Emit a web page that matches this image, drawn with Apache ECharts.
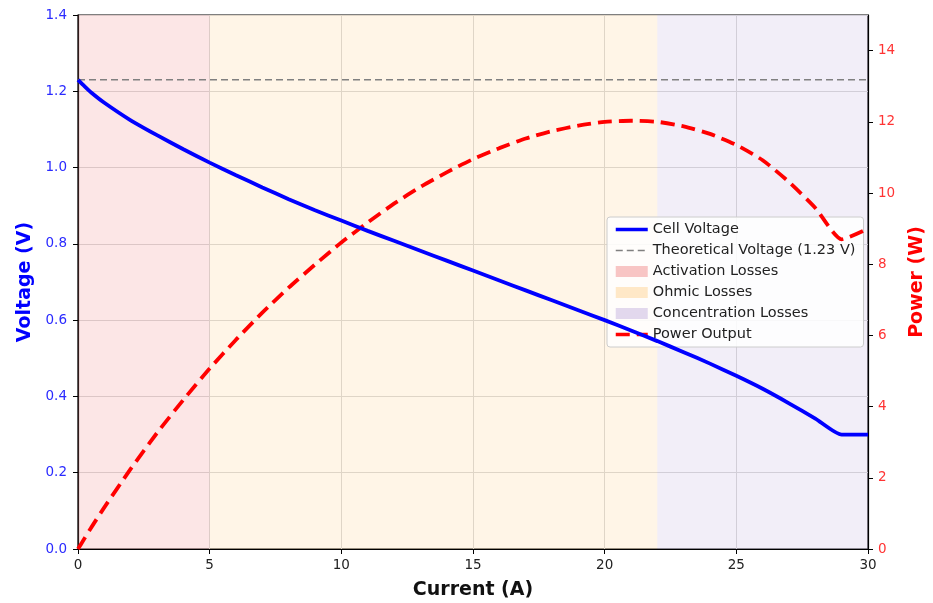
<!DOCTYPE html>
<html>
<head>
<meta charset="utf-8">
<script src="https://cdn.jsdelivr.net/npm/echarts@6/dist/echarts.min.js"></script>
<style>
  html, body { margin: 0; padding: 0; background: #fff; }
  #main { width: 933px; height: 603px; }
</style>
</head>
<body>
<div id="main"></div>
<script>
// values
var current = [0, 0.25, 0.5, 1, 2, 3, 4, 5, 6, 7, 8, 9, 10, 11, 12, 13, 14, 15,
  16, 17, 18, 19, 20, 21, 22, 23, 24, 25, 26, 27, 28, 29, 30];
var voltage = [1.230, 1.213, 1.197, 1.170, 1.124, 1.085, 1.048, 1.013, 0.980, 0.948,
  0.917, 0.888, 0.861, 0.834, 0.808, 0.782, 0.756, 0.730, 0.704, 0.678, 0.652,
  0.626, 0.600, 0.573, 0.545, 0.516, 0.486, 0.454, 0.420, 0.382, 0.342, 0.300, 0.300];
var power = [0, 0.30, 0.60, 1.17, 2.25, 3.26, 4.19, 5.07, 5.88, 6.64, 7.34, 7.99,
  8.61, 9.17, 9.70, 10.17, 10.58, 10.95, 11.26, 11.53, 11.74, 11.89, 12.00, 12.03,
  12.00, 11.87, 11.66, 11.35, 10.92, 10.31, 9.58, 8.70, 9.00];
var theoreticalV = 1.23;
var regionNames = ['Activation Losses', 'Ohmic Losses', 'Concentration Losses'];
var regionBounds = [[0, 5], [5, 22], [22, 30]];
var regionFill = ['rgba(240,128,128,0.2)', 'rgba(255,200,120,0.18)', 'rgba(190,170,220,0.2)'];
var regionSwatch = ['rgba(240,128,128,0.45)', 'rgba(255,200,120,0.4)', 'rgba(190,170,220,0.45)'];

var chart = echarts.init(document.getElementById('main'));
var font = 'DejaVu Sans';

var vData = current.map(function (c, i) { return [c, voltage[i]]; });
var pData = current.map(function (c, i) { return [c, power[i]]; });

var regionSeries = regionNames.map(function (name, i) {
  return {
    name: name,
    type: 'line',
    data: [],
    symbol: 'none',
    itemStyle: { color: regionSwatch[i] },
    markArea: {
      silent: true,
      itemStyle: { color: regionFill[i] },
      data: [[{ xAxis: regionBounds[i][0] }, { xAxis: regionBounds[i][1] }]]
    },
    z: 0
  };
});

var noDot = { opacity: 0 };

var option = {
  animation: false,
  textStyle: { fontFamily: font },
  grid: {
    left: 78, right: 65, top: 15, bottom: 54,
    outerBoundsMode: 'none',
    show: true, borderColor: '#000', borderWidth: 1.2, backgroundColor: 'transparent'
  },
  legend: {
    orient: 'vertical',
    left: 607, top: 217,
    padding: [5, 8, 5, 7],
    itemGap: 6,
    itemWidth: 32, itemHeight: 11,
    backgroundColor: 'rgba(255,255,255,0.85)',
    borderColor: '#ccc', borderWidth: 1, borderRadius: 3,
    textStyle: { fontFamily: font, fontSize: 14.5, color: '#222' },
    data: [
      { name: 'Cell Voltage', itemStyle: noDot, lineStyle: { width: 3.5 } },
      { name: 'Theoretical Voltage (1.23 V)', itemStyle: noDot, lineStyle: { width: 1.5 } },
      { name: 'Activation Losses', icon: 'rect' },
      { name: 'Ohmic Losses', icon: 'rect' },
      { name: 'Concentration Losses', icon: 'rect' },
      { name: 'Power Output', itemStyle: noDot, lineStyle: { width: 3.5 } }
    ]
  },
  xAxis: {
    type: 'value',
    min: 0, max: 30, interval: 5,
    name: 'Current (A)',
    nameLocation: 'middle',
    nameGap: 32,
    nameTextStyle: { fontFamily: font, fontSize: 19, fontWeight: 'bold', color: '#111' },
    axisLine: { lineStyle: { color: '#000', width: 1.2 } },
    axisTick: { show: true, length: 5, lineStyle: { color: '#000' } },
    axisLabel: { fontSize: 13.5, color: '#222', margin: 9 },
    splitLine: { show: true, lineStyle: { color: '#d8d8d8', width: 1 } }
  },
  yAxis: [
    {
      type: 'value',
      min: 0, max: 1.4, interval: 0.2,
      name: 'Voltage (V)',
      nameLocation: 'middle',
      nameGap: 43,
      nameTextStyle: { fontFamily: font, fontSize: 19, fontWeight: 'bold', color: '#0000ff' },
      axisLine: { show: true, lineStyle: { color: '#000', width: 1.2 } },
      axisTick: { show: true, length: 5, lineStyle: { color: '#000' } },
      axisLabel: {
        fontSize: 13.5, color: '#2a2aff', margin: 11,
        formatter: function (v) { return v.toFixed(1); }
      },
      splitLine: { show: true, lineStyle: { color: '#d8d8d8', width: 1 } }
    },
    {
      type: 'value',
      min: 0, max: 15, interval: 2,
      name: 'Power (W)',
      nameLocation: 'middle',
      nameGap: 40,
      nameRotate: 90,
      nameTextStyle: { fontFamily: font, fontSize: 19, fontWeight: 'bold', color: '#ff0000' },
      axisLine: { show: true, lineStyle: { color: '#000', width: 1.2 } },
      axisTick: { show: true, length: 5, lineStyle: { color: '#000' } },
      axisLabel: { fontSize: 13.5, color: '#ff3333', margin: 10, showMaxLabel: false },
      splitLine: { show: false }
    }
  ],
  series: regionSeries.concat([
    {
      name: 'Theoretical Voltage (1.23 V)',
      type: 'line',
      yAxisIndex: 0,
      data: [[0, theoreticalV], [30, theoreticalV]],
      symbol: 'none',
      itemStyle: { color: '#808080' },
      lineStyle: { color: '#808080', width: 1.5, type: [7, 4] },
      z: 3
    },
    {
      name: 'Cell Voltage',
      type: 'line',
      yAxisIndex: 0,
      data: vData,
      symbol: 'none',
      smooth: 0.2,
      itemStyle: { color: '#0000ff' },
      lineStyle: { color: '#0000ff', width: 3.8 },
      z: 5
    },
    {
      name: 'Power Output',
      type: 'line',
      yAxisIndex: 1,
      data: pData,
      symbol: 'none',
      smooth: 0.2,
      itemStyle: { color: '#ff0000' },
      lineStyle: { color: '#ff0000', width: 3.8, type: [14, 7] },
      z: 4
    }
  ])
};

chart.setOption(option);
</script>
</body>
</html>
